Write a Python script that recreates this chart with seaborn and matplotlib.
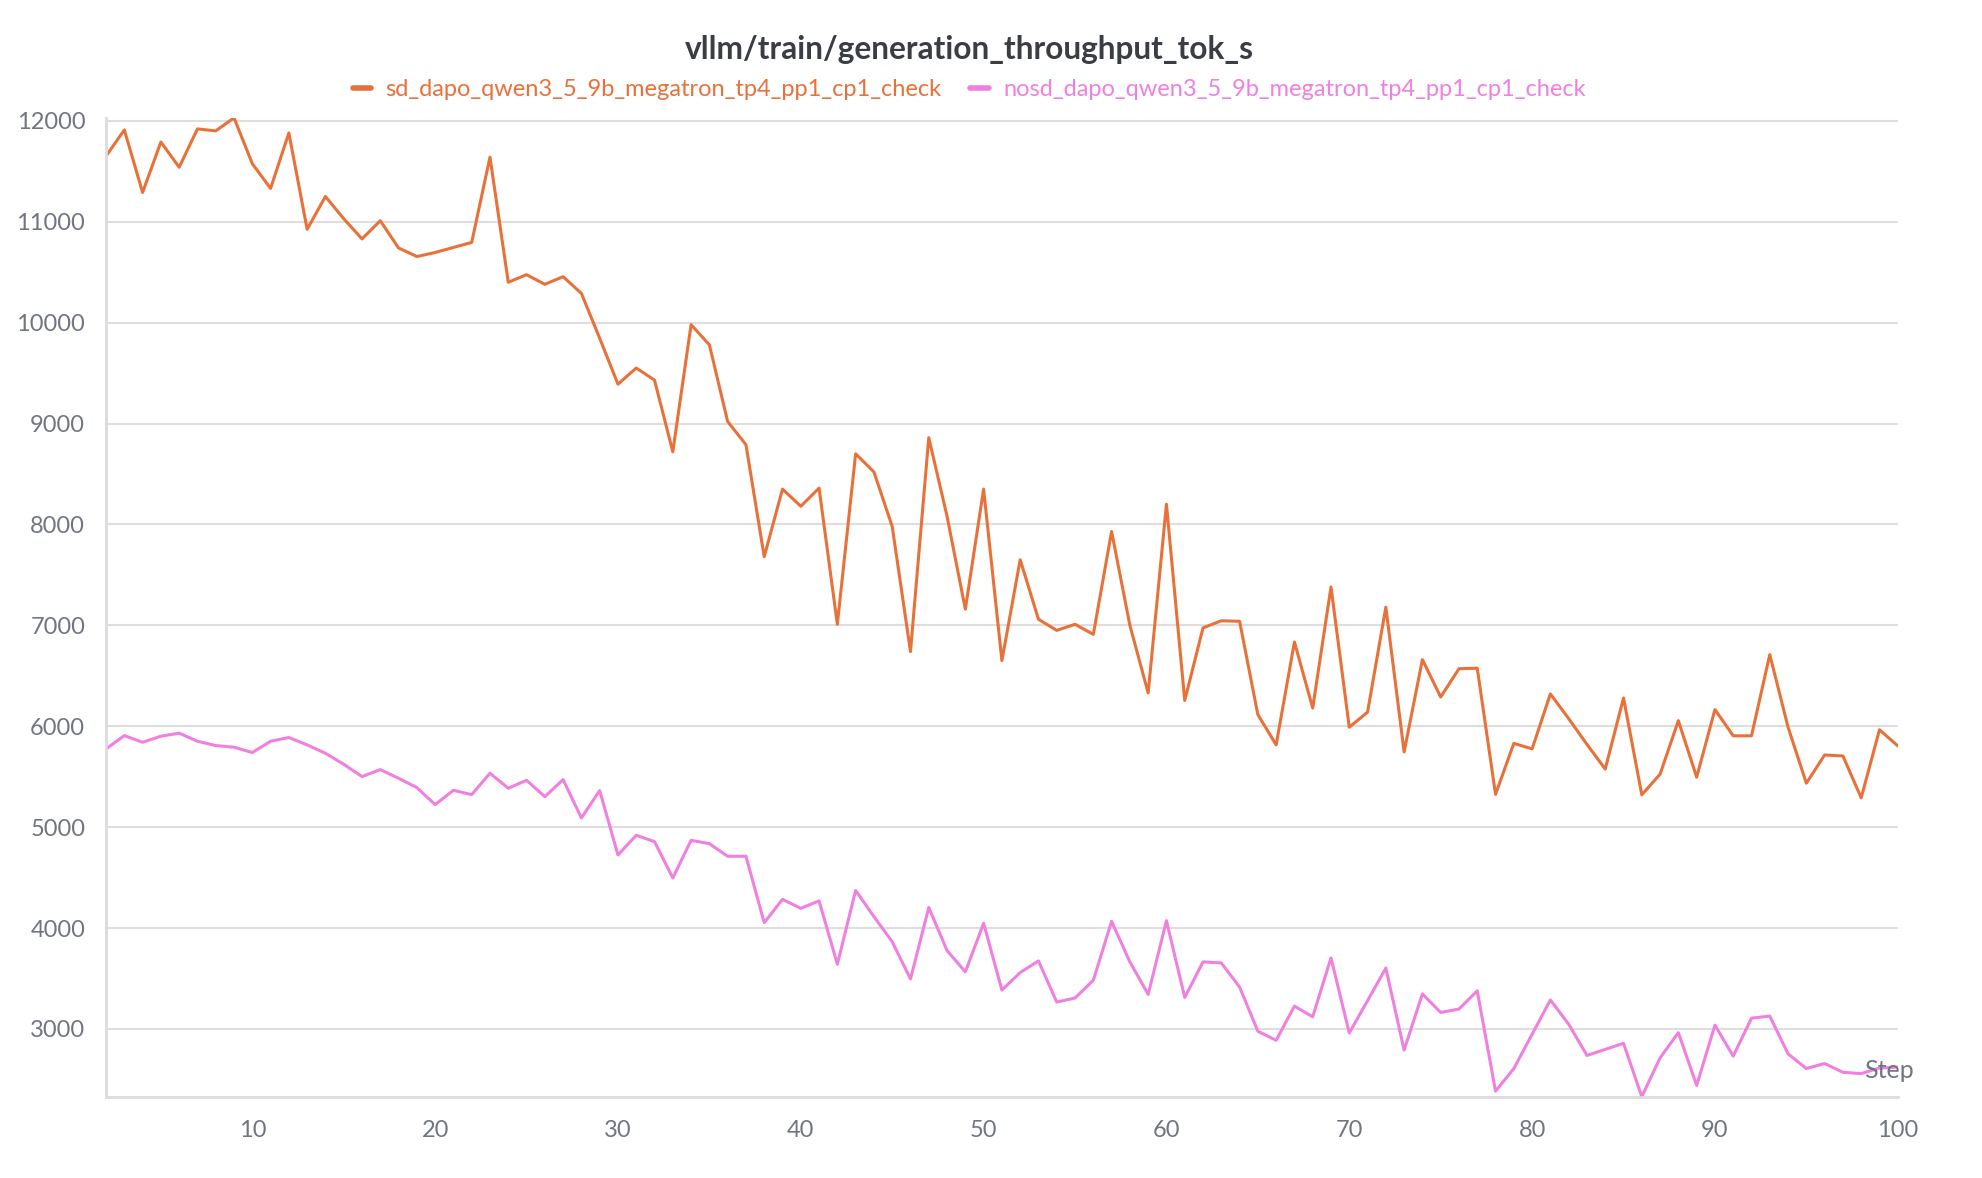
#!/usr/bin/env python3
"""
Generation throughput (tok/s) per training step, with and without speculative decoding.
Output: out.png
"""

import pandas as pd
import matplotlib.pyplot as plt
import seaborn as sns

steps = list(range(2, 101))

sd_run = "sd_dapo_qwen3_5_9b_megatron_tp4_pp1_cp1_check"
nosd_run = "nosd_dapo_qwen3_5_9b_megatron_tp4_pp1_cp1_check"

sd_throughput = [
    11650, 11910, 11290, 11790, 11540, 11920, 11900, 12030, 11575,          # 2-10
    11330, 11880, 10925, 11250, 11030, 10830, 11010, 10740, 10655, 10695,  # 11-20
    10745, 10795, 11640, 10400, 10475, 10380, 10455, 10290, 9845, 9390,    # 21-30
    9550, 9430, 8720, 9980, 9780, 9020, 8790, 7680, 8350, 8180,            # 31-40
    8360, 7010, 8700, 8520, 7980, 6740, 8860, 8080, 7160, 8350,            # 41-50
    6650, 7650, 7060, 6950, 7010, 6910, 7930, 7000, 6330, 8200,            # 51-60
    6255, 6975, 7045, 7040, 6115, 5815, 6835, 6180, 7380, 5990,            # 61-70
    6140, 7180, 5745, 6660, 6290, 6570, 6575, 5325, 5830, 5775,            # 71-80
    6320, 6075, 5820, 5575, 6280, 5320, 5525, 6055, 5495, 6165,            # 81-90
    5905, 5905, 6710, 5990, 5435, 5715, 5705, 5290, 5965, 5805,            # 91-100
]

nosd_throughput = [
    5775, 5907, 5841, 5901, 5931, 5851, 5808, 5792, 5739,                  # 2-10
    5851, 5888, 5815, 5732, 5623, 5501, 5570, 5484, 5392, 5223,            # 11-20
    5365, 5322, 5534, 5385, 5464, 5302, 5471, 5091, 5362, 4724,            # 21-30
    4919, 4856, 4496, 4869, 4836, 4711, 4711, 4053, 4284, 4195,            # 31-40
    4269, 3641, 4372, 4113, 3864, 3495, 4203, 3777, 3565, 4047,            # 41-50
    3385, 3558, 3674, 3266, 3306, 3482, 4066, 3664, 3342, 4073,            # 51-60
    3312, 3664, 3654, 3415, 2977, 2887, 3226, 3120, 3704, 2960,            # 61-70
    3280, 3603, 2790, 3347, 3163, 3197, 3377, 2383, 2607, 2947,            # 71-80
    3287, 3047, 2737, 2797, 2857, 2328, 2713, 2963, 2440, 3037,            # 81-90
    2730, 3107, 3127, 2753, 2607, 2657, 2570, 2557, 2613, 2620,            # 91-100
]

y_ticks = list(range(3000, 12001, 1000))
x_ticks = list(range(10, 101, 10))

colors = {sd_run: "#e8713a", nosd_run: "#ef80e0"}

df = pd.concat([
    pd.DataFrame({"Step": steps, "value": sd_throughput, "run": sd_run}),
    pd.DataFrame({"Step": steps, "value": nosd_throughput, "run": nosd_run}),
])

sns.set_theme(style="white")
plt.rcParams["font.family"] = ["Lato", "DejaVu Sans"]

fig = plt.figure(figsize=(19.82, 11.78), dpi=100)
ax = fig.add_axes([0.0535, 0.069, 0.904, 0.831])

sns.lineplot(data=df, x="Step", y="value", hue="run", palette=colors,
             linewidth=2.2, ax=ax, legend=False)

ax.set_xlim(2, 100)
ax.set_ylim(min(nosd_throughput), max(sd_throughput))
ax.set_xticks(x_ticks)
ax.set_yticks(y_ticks)
ax.set_xlabel("")
ax.set_ylabel("")

ax.grid(axis="y", color="#dedede", linewidth=1.5)
ax.grid(axis="x", visible=False)
for side in ["top", "right"]:
    ax.spines[side].set_visible(False)
for side in ["left", "bottom"]:
    ax.spines[side].set_color("#dcdcdc")
    ax.spines[side].set_linewidth(2)
ax.tick_params(axis="both", colors="#dcdcdc", labelcolor="#70757f",
               labelsize=17, length=9, width=1.2)
ax.tick_params(axis="x", pad=8)
ax.tick_params(axis="y", pad=6)

fig.text(0.953, 1 - 1071 / 1178, "Step", ha="center", va="center",
         fontsize=18, color="#70757f")

fig.suptitle("vllm/train/generation_throughput_tok_s", x=0.489, y=0.958,
             va="center", fontsize=22.8, fontweight="bold", color="#3b3d45")

handles = [plt.Line2D([], [], color=colors[r], linewidth=4) for r in [sd_run, nosd_run]]
fig.legend(handles, [sd_run, nosd_run], loc="center", bbox_to_anchor=(0.489, 0.924),
           ncol=2, frameon=False, fontsize=17, handlelength=0.8,
           handletextpad=0.6, columnspacing=1.2, labelcolor="linecolor")

fig.savefig("out.png", dpi=100)
plt.close(fig)
